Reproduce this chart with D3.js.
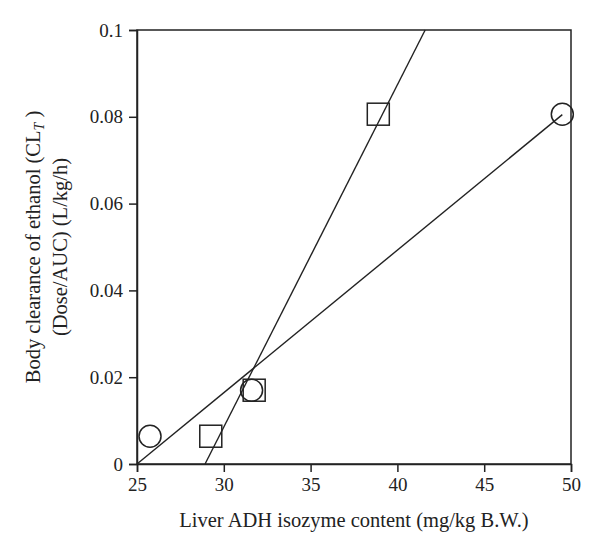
<!DOCTYPE html>
<html lang="en">
<head>
<meta charset="UTF-8">
<script src="https://cdn.jsdelivr.net/npm/d3@7"></script>
<style>
  body { margin: 0; background: #fff; }
  svg text { font-family: "Liberation Serif", "Times New Roman", serif; fill: #222; }
</style>
</head>
<body>
<div id="chart"></div>
<script>
/* data */
var circleX = [25.75, 31.6, 49.5];
var circleY = [0.0064, 0.0170, 0.0806];
var squareX = [29.25, 31.75, 38.9];
var squareY = [0.0064, 0.0170, 0.0806];
/* fitted lines, end points */
var circleLineX = [25, 49.5];
var circleLineY = [0, 0.0805];
var squareLineX = [28.92, 41.6];
var squareLineY = [0, 0.1];
var xTicks = [25, 30, 35, 40, 45, 50];
var yTicks = [0, 0.02, 0.04, 0.06, 0.08, 0.1];

var w = 600, h = 552;
var mLeft = 137, mRight = 571, mTop = 30, mBottom = 464;
var ink = "#222";

var svg = d3.select("#chart").append("svg")
  .attr("width", w).attr("height", h);

var x = d3.scaleLinear().domain([25, 50]).range([mLeft, mRight]);
var y = d3.scaleLinear().domain([0, 0.1]).range([mBottom, mTop]);

/* frame */
svg.append("rect")
  .attr("x", mLeft).attr("y", mTop)
  .attr("width", mRight - mLeft).attr("height", mBottom - mTop)
  .attr("fill", "none").attr("stroke", ink).attr("stroke-width", 1.5);

var xAxis = svg.append("g")
  .attr("transform", "translate(0," + mBottom + ")")
  .call(d3.axisBottom(x).tickValues(xTicks).tickSize(8).tickPadding(6)
    .tickFormat(d3.format("d")));
var yAxis = svg.append("g")
  .attr("transform", "translate(" + mLeft + ",0)")
  .call(d3.axisLeft(y).tickValues(yTicks).tickSize(8).tickPadding(6)
    .tickFormat(function(d) { return d === 0 ? "0" : String(+d.toFixed(2)); }));

[xAxis, yAxis].forEach(function(g) {
  g.attr("font-family", null).attr("font-size", null);
  g.select(".domain").attr("stroke", ink).attr("stroke-width", 1.5);
  g.selectAll(".tick line").attr("stroke", ink).attr("stroke-width", 1.5);
  g.selectAll(".tick text").style("font-size", "19px").attr("fill", ink);
});

/* regression lines */
var line = d3.line()
  .x(function(d) { return x(d[0]); })
  .y(function(d) { return y(d[1]); });

svg.append("path")
  .datum(d3.zip(circleLineX, circleLineY))
  .attr("d", line).attr("fill", "none")
  .attr("stroke", ink).attr("stroke-width", 1.4);
svg.append("path")
  .datum(d3.zip(squareLineX, squareLineY))
  .attr("d", line).attr("fill", "none")
  .attr("stroke", ink).attr("stroke-width", 1.4);

/* markers */
var sq = 22;
svg.selectAll("rect.sq")
  .data(d3.zip(squareX, squareY))
  .enter().append("rect")
  .attr("class", "sq")
  .attr("x", function(d) { return x(d[0]) - sq / 2; })
  .attr("y", function(d) { return y(d[1]) - sq / 2; })
  .attr("width", sq).attr("height", sq)
  .attr("fill", "none").attr("stroke", ink).attr("stroke-width", 1.5);

svg.selectAll("circle.pt")
  .data(d3.zip(circleX, circleY))
  .enter().append("circle")
  .attr("class", "pt")
  .attr("cx", function(d) { return x(d[0]); })
  .attr("cy", function(d) { return y(d[1]); })
  .attr("r", 11)
  .attr("fill", "none").attr("stroke", ink).attr("stroke-width", 1.5);

/* axis titles */
svg.append("text")
  .attr("x", (mLeft + mRight) / 2).attr("y", 527)
  .attr("text-anchor", "middle").style("font-size", "20.5px")
  .text("Liver ADH isozyme content (mg/kg B.W.)");

var yt = svg.append("text")
  .attr("transform", "translate(40," + (mTop + mBottom) / 2 + ") rotate(-90)")
  .attr("text-anchor", "middle").style("font-size", "20.5px");
yt.append("tspan").attr("x", 0).attr("dy", 0).text("Body clearance of ethanol (CL");
yt.append("tspan").attr("font-style", "italic").style("font-size", "14px")
  .attr("dy", 4).text("T");
yt.append("tspan").attr("dy", -4).text(" )");
yt.append("tspan").attr("x", 0).attr("dy", 27).text("(Dose/AUC) (L/kg/h)");
</script>
</body>
</html>
